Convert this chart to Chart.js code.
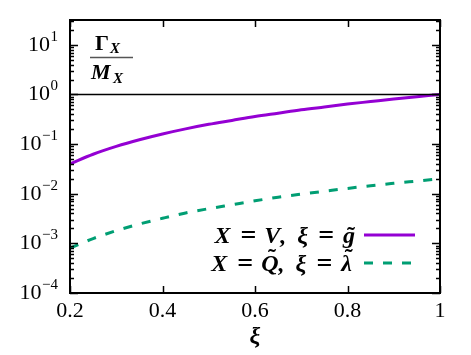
<!DOCTYPE html>
<html>
<head>
<meta charset="utf-8">
<script src="https://cdn.jsdelivr.net/npm/chart.js@4"></script>
<style>
  html, body { margin: 0; padding: 0; background: #fff; }
  canvas { display: block; }
</style>
</head>
<body>
<canvas id="c" width="471" height="355"></canvas>
<script>
// data
const xi = [0.2, 0.25, 0.3, 0.35, 0.4, 0.45, 0.5, 0.55, 0.6, 0.65, 0.7, 0.75, 0.8, 0.85, 0.9, 0.95, 1.0];
const ratioV = [0.040, 0.0625, 0.090, 0.1225, 0.160, 0.2025, 0.250, 0.300, 0.360, 0.420, 0.490, 0.560, 0.640, 0.720, 0.810, 0.900, 1.000];
const ratioQ = [0.0008, 0.00125, 0.0018, 0.00245, 0.0032, 0.0041, 0.0050, 0.0060, 0.0072, 0.0085, 0.0098, 0.0112, 0.0128, 0.0145, 0.0162, 0.0180, 0.0200];
const refX = [0.2, 1.0];
const refY = [1, 1];

const xTicks = [0.2, 0.4, 0.6, 0.8, 1];
const xTickLabels = ['0.2', '0.4', '0.6', '0.8', '1'];
const yDecades = [-4, -3, -2, -1, 0, 1];
const yMin = 1e-4, yMax = Math.pow(10, 1.5);

// ~ marks a tilde over the letter before it
const legendLabels = [['X', '=', 'V,', 'ξ', '=', 'g~'], ['X', '=', 'Q~,', 'ξ', '=', 'λ~']];
const xTitle = 'ξ';

const violet = '#9400d3';
const green = '#009e73';
const serif = '"Liberation Serif", "Times New Roman", serif';
const mathFont = 'bold italic 24px ' + serif;
const opFont = 'bold 28px ' + serif;

function pts(xs, ys) {
  return xs.map((x, i) => ({ x: x, y: ys[i] }));
}

function tokenFont(tok) {
  return tok === '=' ? opFont : mathFont;
}

function tokenWidth(ctx, tok) {
  ctx.font = tokenFont(tok);
  return ctx.measureText(tok.replace(/~/g, '')).width;
}

// draw a token, putting a tilde above letters followed by ~
function drawToken(ctx, tok, x, y) {
  ctx.font = tokenFont(tok);
  let cx = x;
  for (let i = 0; i < tok.length; i++) {
    const ch = tok[i];
    if (ch === '~') continue;
    const w = ctx.measureText(ch).width;
    ctx.fillText(ch, tok === '=' ? cx : cx, tok === '=' ? y + 1 : y);
    if (tok[i + 1] === '~') {
      ctx.font = 'bold 24px ' + serif;
      const tw = ctx.measureText('\u02DC').width;
      const raise = (ch === 'g') ? 0 : 6;
      ctx.fillText('\u02DC', cx + w / 2 - tw / 2 + 2, y - raise);
      ctx.font = tokenFont(tok);
    }
    cx += w;
  }
  return cx - x;
}

// ticks, labels, box, legend and fraction, drawn from the scales
const decor = {
  id: 'decor',
  afterDraw(chart) {
    const ctx = chart.ctx;
    const a = chart.chartArea;
    const xs = chart.scales.x, ys = chart.scales.y;
    ctx.save();
    ctx.strokeStyle = '#000';
    ctx.fillStyle = '#000';
    ctx.lineWidth = 1.5;

    // y ticks (major + minor), both sides, pointing in
    yDecades.forEach(d => {
      for (let m = 1; m < 10; m++) {
        const v = m * Math.pow(10, d);
        if (v > yMax + 1e-9) continue;
        const py = Math.round(ys.getPixelForValue(v)) + 0.5;
        const len = m === 1 ? 8 : 4;
        ctx.beginPath();
        ctx.moveTo(a.left, py); ctx.lineTo(a.left + len, py);
        ctx.moveTo(a.right, py); ctx.lineTo(a.right - len, py);
        ctx.stroke();
      }
    });
    // x ticks, bottom and top
    xTicks.forEach(v => {
      const px = Math.round(xs.getPixelForValue(v)) + 0.5;
      ctx.beginPath();
      ctx.moveTo(px, a.bottom); ctx.lineTo(px, a.bottom - 7);
      ctx.moveTo(px, a.top); ctx.lineTo(px, a.top + 7);
      ctx.stroke();
    });

    // frame
    ctx.lineWidth = 2;
    ctx.strokeRect(a.left, a.top, a.right - a.left, a.bottom - a.top);

    // y tick labels 10^n
    ctx.textBaseline = 'alphabetic';
    yDecades.forEach(d => {
      const py = ys.getPixelForValue(Math.pow(10, d));
      const exp = d < 0 ? '\u2212' + (-d) : String(d);
      ctx.font = '15px ' + serif;
      const we = ctx.measureText(exp).width;
      ctx.textAlign = 'right';
      ctx.fillText(exp, 58, py - 4);
      ctx.font = '22px ' + serif;
      ctx.fillText('10', 58 - we - 0.5, py + 6);
    });

    // x tick labels
    ctx.font = '22px ' + serif;
    ctx.textAlign = 'center';
    xTicks.forEach((v, i) => {
      ctx.fillText(xTickLabels[i], xs.getPixelForValue(v), 317);
    });

    // x axis title
    ctx.font = 'bold italic 24px ' + serif;
    ctx.fillText(xTitle, (a.left + a.right) / 2, 343);

    // legend
    ctx.textAlign = 'left';
    const gaps = [10, 8, 11, 10, 9];
    const rows = [
      { y: 235, color: violet, dash: [] },
      { y: 263, color: green, dash: [9, 10] }
    ];
    rows.forEach((r, i) => {
      ctx.fillStyle = '#000';
      const toks = legendLabels[i];
      let total = 0;
      toks.forEach((t, k) => { total += tokenWidth(ctx, t) + (k < toks.length - 1 ? gaps[k] : 0); });
      let x = 352 - total;
      toks.forEach((t, k) => {
        x += drawToken(ctx, t, x, r.y + 8);
        if (k < toks.length - 1) x += gaps[k];
      });
      ctx.strokeStyle = r.color;
      ctx.lineWidth = 3;
      ctx.setLineDash(r.dash);
      ctx.beginPath();
      ctx.moveTo(364, r.y); ctx.lineTo(415, r.y);
      ctx.stroke();
      ctx.setLineDash([]);
    });

    // fraction Gamma_X / M_X
    ctx.fillStyle = '#000';
    ctx.textAlign = 'left';
    ctx.font = 'bold 22px ' + serif;
    ctx.fillText('\u0393', 95, 50);
    ctx.font = 'bold italic 15px ' + serif;
    ctx.fillText('X', 110, 53);
    ctx.strokeStyle = '#555';
    ctx.lineWidth = 1.5;
    ctx.beginPath();
    ctx.moveTo(90, 57.5); ctx.lineTo(133, 57.5);
    ctx.stroke();
    ctx.font = 'bold italic 22px ' + serif;
    ctx.fillText('M', 91, 79);
    ctx.font = 'bold italic 15px ' + serif;
    ctx.fillText('X', 113, 83);

    ctx.restore();
  }
};

function build() {
  new Chart(document.getElementById('c'), {
    type: 'line',
    data: {
      datasets: [
        {
          label: 'ref',
          data: pts(refX, refY),
          borderColor: '#000',
          borderWidth: 1.5,
          pointRadius: 0
        },
        {
          label: 'X = V',
          data: pts(xi, ratioV),
          borderColor: violet,
          borderWidth: 3,
          pointRadius: 0,
          cubicInterpolationMode: 'monotone'
        },
        {
          label: 'X = Q',
          data: pts(xi, ratioQ),
          borderColor: green,
          borderWidth: 3,
          borderDash: [9, 10],
          pointRadius: 0,
          cubicInterpolationMode: 'monotone'
        }
      ]
    },
    options: {
      responsive: false,
      animation: false,
      layout: { padding: { left: 70, right: 31, top: 20, bottom: 62 } },
      plugins: { legend: { display: false }, tooltip: { enabled: false } },
      scales: {
        x: {
          type: 'linear', min: 0.2, max: 1,
          grid: { display: false }, border: { display: false },
          ticks: { display: false },
          afterFit: s => { s.height = 0; }
        },
        y: {
          type: 'logarithmic', min: yMin, max: yMax,
          grid: { display: false }, border: { display: false },
          ticks: { display: false },
          afterFit: s => { s.width = 0; }
        }
      }
    },
    plugins: [decor]
  });
}

Promise.all([
  document.fonts.load('22px "Liberation Serif"'),
  document.fonts.load('bold 22px "Liberation Serif"'),
  document.fonts.load('italic bold 22px "Liberation Serif"')
]).catch(() => {}).then(build);
</script>
</body>
</html>
